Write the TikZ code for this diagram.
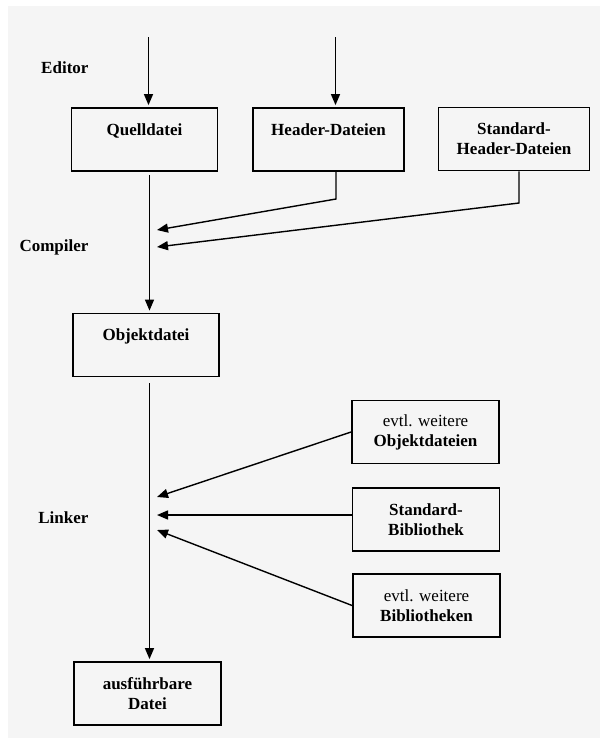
\documentclass[tikz,border=0pt]{standalone}
\usepackage{fontspec}
\setmainfont{Liberation Serif}
\usetikzlibrary{arrows.meta}
\definecolor{panel}{RGB}{245,245,245}
\begin{document}
\begin{tikzpicture}[x=1pt,y=-1pt,
  box/.style={draw,line width=1.8pt,minimum height=63pt,inner sep=0pt,align=center,font=\fontsize{17}{20}\selectfont\bfseries},
  flow/.style={line width=1.4pt,-{Triangle[length=11pt,width=9pt]}},
  stage/.style={anchor=east,font=\fontsize{17}{20}\selectfont\bfseries}]
\useasboundingbox (0,0) rectangle (600,740);
\fill[panel] (8,6) rectangle (600,738);
\coordinate (spine) at (149.5,0);
\coordinate (src1) at (148.5,37);
\coordinate (src2) at (335.5,37);
\coordinate (drop1) at (336,199);
\coordinate (drop2) at (519,203);
\coordinate (cin1) at (157,230);
\coordinate (cin2) at (157,247);
\coordinate (lin1) at (157,497);
\coordinate (lin2) at (157,515);
\coordinate (lin3) at (157,530);
\node[stage] (editor) at (92,68) {Editor};
\node[stage] (compiler) at (92,247) {Compiler};
\node[stage] (linker) at (92,518) {Linker};
\node[box,minimum width=146pt] (quell) at (144.5,139.5) {Quelldatei\\~};
\node[box,minimum width=151pt] (header) at (328.5,139.5) {Header-Dateien\\~};
\node[box,minimum width=151pt] (stdheader) at (514,139) {Standard-\\Header-Dateien};
\node[box,minimum width=146pt] (objekt) at (146,345) {Objektdatei\\~};
\node[box,minimum width=147pt] (weitobj) at (425.5,432) {{\mdseries evtl. weitere}\\Objektdateien};
\node[box,minimum width=147pt] (stdbib) at (426,519.5) {Standard-\\Bibliothek};
\node[box,minimum width=147pt] (weitbib) at (426.5,605.5) {{\mdseries evtl. weitere}\\Bibliotheken};
\node[box,minimum width=147pt] (ausf) at (147.5,693.5) {ausführbare\\Datei};
\draw[flow,shorten >=2pt] (src1) -- (quell.north -| src1);
\draw[flow,shorten >=2pt] (src2) -- (header.north -| src2);
\draw[flow,shorten <=3pt,shorten >=2pt] (quell.south -| spine) -- (objekt.north -| spine);
\draw[flow,shorten <=6pt,shorten >=2pt] (objekt.south -| spine) -- (ausf.north -| spine);
\draw[flow] (header.south -| drop1) -- (drop1) -- (cin1);
\draw[flow] (stdheader.south -| drop2) -- (drop2) -- (cin2);
\draw[flow] (weitobj.west) -- (lin1);
\draw[flow] (stdbib.west |- lin2) -- (lin2);
\draw[flow] (weitbib.west) -- (lin3);
\end{tikzpicture}
\end{document}
